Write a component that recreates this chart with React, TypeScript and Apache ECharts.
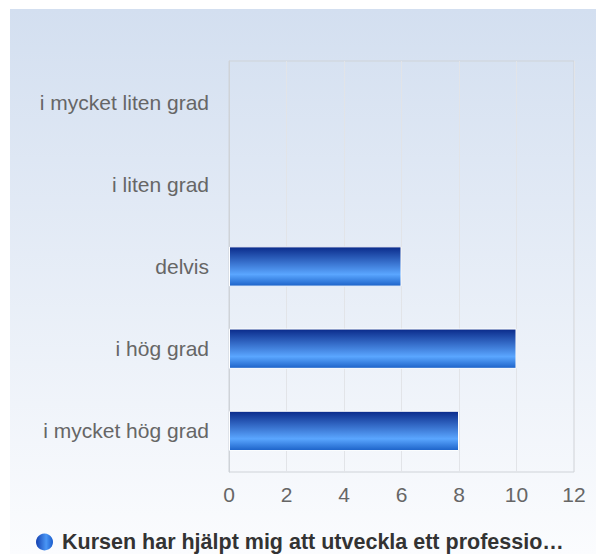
import React, { useEffect, useRef } from "react";
import * as echarts from "echarts";

const categories = ["i mycket hög grad", "i hög grad", "delvis", "i liten grad", "i mycket liten grad"];
const values = [8, 10, 6, 0, 0];
const seriesName = "Kursen har hjälpt mig att utveckla ett professionellt förhållningssätt";
const xTicks = { min: 0, max: 12, interval: 2 };

export default function App() {
  const ref = useRef<HTMLDivElement>(null);
  useEffect(() => {
    if (!ref.current) return;
    const chart = echarts.init(ref.current, undefined, { renderer: "svg" });
    const barGrad = new echarts.graphic.LinearGradient(0, 0, 0, 1, [
      { offset: 0, color: "#0a2a8a" },
      { offset: 0.7, color: "#5aa6ff" },
      { offset: 1, color: "#1c62c8" },
    ]);
    const iconGrad = new echarts.graphic.LinearGradient(0, 0, 1, 0, [
      { offset: 0, color: "#1440b0" },
      { offset: 0.6, color: "#4a96f5" },
      { offset: 1, color: "#1a5ccc" },
    ]);
    chart.setOption({
      animation: false,
      backgroundColor: new echarts.graphic.LinearGradient(0, 0, 0, 1, [
        { offset: 0, color: "#d3dff0" },
        { offset: 1, color: "#fbfcfe" },
      ]),
      textStyle: { fontFamily: "Liberation Sans, Arial, sans-serif" },
      grid: {
        left: 219,
        top: 52,
        right: 22,
        bottom: 82,
        show: true,
        borderColor: "#cfd3d8",
        borderWidth: 1,
        backgroundColor: "transparent",
      },
      xAxis: {
        type: "value",
        min: xTicks.min,
        max: xTicks.max,
        interval: xTicks.interval,
        axisLine: { show: false },
        axisTick: { show: false },
        splitLine: { show: true, lineStyle: { color: "#e2e4e8", width: 1 } },
        axisLabel: { color: "#666", fontSize: 21, margin: 12 },
      },
      yAxis: {
        type: "category",
        data: categories,
        axisLine: { show: true, lineStyle: { color: "#cfd3d8" } },
        axisTick: { show: false },
        axisLabel: { color: "#666", fontSize: 21, margin: 20, padding: [4, 0, 0, 0] },
      },
      legend: {
        top: 517,
        left: 21,
        icon: "circle",
        itemWidth: 17,
        itemHeight: 17,
        itemGap: 6,
        itemStyle: { borderWidth: 0 },
        data: [{ name: seriesName, itemStyle: { color: iconGrad, borderWidth: 0 } }],
        textStyle: {
          color: "#333",
          fontSize: 21.5,
          fontWeight: "bold",
          width: 503,
          overflow: "truncate",
          ellipsis: "…",
          padding: [0, 0, 0, 4],
        },
      },
      series: [
        {
          type: "bar",
          name: seriesName,
          data: values.map((v) => ({
            value: v,
            itemStyle: v === 0 ? { borderWidth: 0, opacity: 0 } : undefined,
          })),
          barWidth: "49%",
          itemStyle: { color: barGrad, borderColor: "#ffffff", borderWidth: 1 },
        },
      ],
    });
    return () => chart.dispose();
  }, []);
  return (
    <div
      ref={ref}
      style={{ position: "absolute", left: 10, top: 9, width: 586, height: 545 }}
    />
  );
}
